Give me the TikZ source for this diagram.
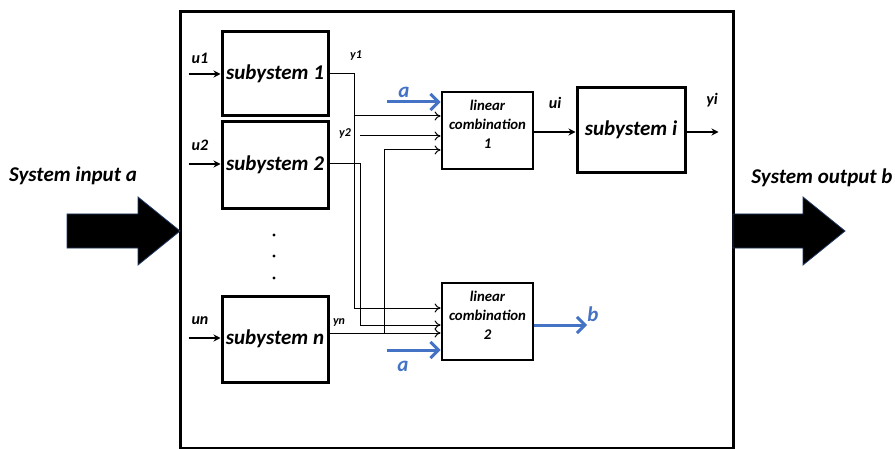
\documentclass[tikz,border=0pt]{standalone}
\usepackage{fontspec}
\setmainfont{Carlito}
\usepackage{tikz}
\usetikzlibrary{positioning, arrows.meta}
\definecolor{signalblue}{RGB}{68,114,196}
\definecolor{edgeblue}{RGB}{32,56,100}

\begin{document}
\begin{tikzpicture}[x=0.5pt, y=-0.5pt,
    block/.style = {draw, line width=1.5pt, inner sep=0pt, font=\bfseries\itshape\fontsize{10.5}{12}\selectfont},
    combo/.style = {draw, line width=1.4pt, inner sep=0pt, minimum width=45.5pt, minimum height=38.5pt},
    combotext/.style = {inner sep=0pt, align=center, font=\bfseries\itshape\fontsize{7.4}{9.5}\selectfont},
    lbl/.style = {inner sep=0pt, font=\bfseries\itshape\fontsize{8}{9}\selectfont},
    tiny/.style = {inner sep=0pt, font=\bfseries\itshape\fontsize{6}{7}\selectfont},
    wire/.style = {line width=0.5pt, -{To[length=3pt, width=4.5pt]}},
    feed/.style = {line width=0.7pt, -{Stealth[length=3.5pt, width=3.5pt]}},
    blue arrow/.style = {signalblue, line width=1.5pt, -{Straight Barb[length=4pt, width=8pt]}},
    big arrow/.style = {fill=black, draw=edgeblue, line width=0.4pt}
]

    \useasboundingbox (0, 0) rectangle (895, 449);

    % system frame and the two big arrows
    \draw [line width=1.5pt] (180, 12) rectangle (733, 448);
    \draw [big arrow] (67, 214) -- (138, 214) -- (138, 197) -- (180, 231) -- (138, 265) -- (138, 248) -- (67, 248) -- cycle;
    \draw [big arrow] (733, 214) -- (803, 214) -- (803, 197) -- (845, 231) -- (803, 265) -- (803, 248) -- (733, 248) -- cycle;
    \node [block, draw=none] (inlabel) at (73, 176) {System input a};
    \node [block, draw=none] (outlabel) at (822, 178) {System output b};

    % subsystems
    \node [block, minimum width=53pt, minimum height=42pt] (sub1) at (275, 74) {subystem 1};
    \node [block, minimum width=53pt, minimum height=43.5pt] (sub2) at (275, 165) {subystem 2};
    \node [block, minimum width=53pt, minimum height=43pt] (subn) at (275, 339) {subystem n};
    \node [block, minimum width=54pt, minimum height=42.5pt] (subi) at (631, 130) {subystem i};
    \foreach \y in {235, 256, 278}
        \fill (274, \y) circle (0.8pt);

    % linear combinations
    \node [combo] (lc1) at (487.5, 130.5) {};
    \node [combo] (lc2) at (487.5, 321.5) {};
    \node [combotext] (lc1text) at ([yshift=3pt]lc1) {linear\\combination\\1};
    \node [combotext] (lc2text) at ([yshift=3pt]lc2) {linear\\combination\\2};

    % inputs
    \draw [feed] ([xshift=-16pt]sub1.west) -- (sub1.west);
    \draw [feed] ([xshift=-16pt]sub2.west |- 0, 164) -- (sub2.west |- 0, 164);
    \draw [feed] ([xshift=-16pt]subn.west |- 0, 338) -- (subn.west |- 0, 338);
    \node [lbl] (u1) at (200, 58) {u1};
    \node [lbl] (u2) at (200, 145) {u2};
    \node [lbl] (un) at (200, 321) {un};

    % outputs to the combinations
    \draw [wire] (sub1.east) -| (354, 308) -- (lc2.west |- 0, 308);
    \draw [wire] (354, 116) -- (lc1.west |- 0, 116);
    \draw [wire] (sub2.east |- 0, 164) -| (360, 325) -- (lc2.west |- 0, 325);
    \draw [wire] (360, 136) -- (lc1.west |- 0, 136);
    \draw [wire] (subn.east |- 0, 333) -- (lc2.west |- 0, 333);
    \draw [wire] (384, 333) -- (384, 150) -- (lc1.west |- 0, 150);
    \node [tiny] (y1) at (356, 56) {y1};
    \node [tiny] (y2) at (345, 134) {y2};
    \node [tiny] (yn) at (339, 322) {yn};

    % external signals
    \draw [blue arrow] (387, 102) -- (lc1.west |- 0, 102);
    \draw [blue arrow] (387, 350) -- (lc2.west |- 0, 350);
    \draw [blue arrow] (lc2.east |- 0, 325) -- (587, 325);
    \node [block, draw=none, text=signalblue] (a1) at (404, 92) {a};
    \node [block, draw=none, text=signalblue] (a2) at (403, 366) {a};
    \node [block, draw=none, text=signalblue] (b) at (593, 314) {b};

    % subsystem i
    \draw [feed] (lc1.east |- 0, 132) -- (subi.west |- 0, 132);
    \draw [feed] (subi.east |- 0, 132) -- ([xshift=16pt]subi.east |- 0, 132);
    \node [lbl] (ui) at (555, 103) {ui};
    \node [lbl] (yi) at (712, 100) {yi};
\end{tikzpicture}
\end{document}
